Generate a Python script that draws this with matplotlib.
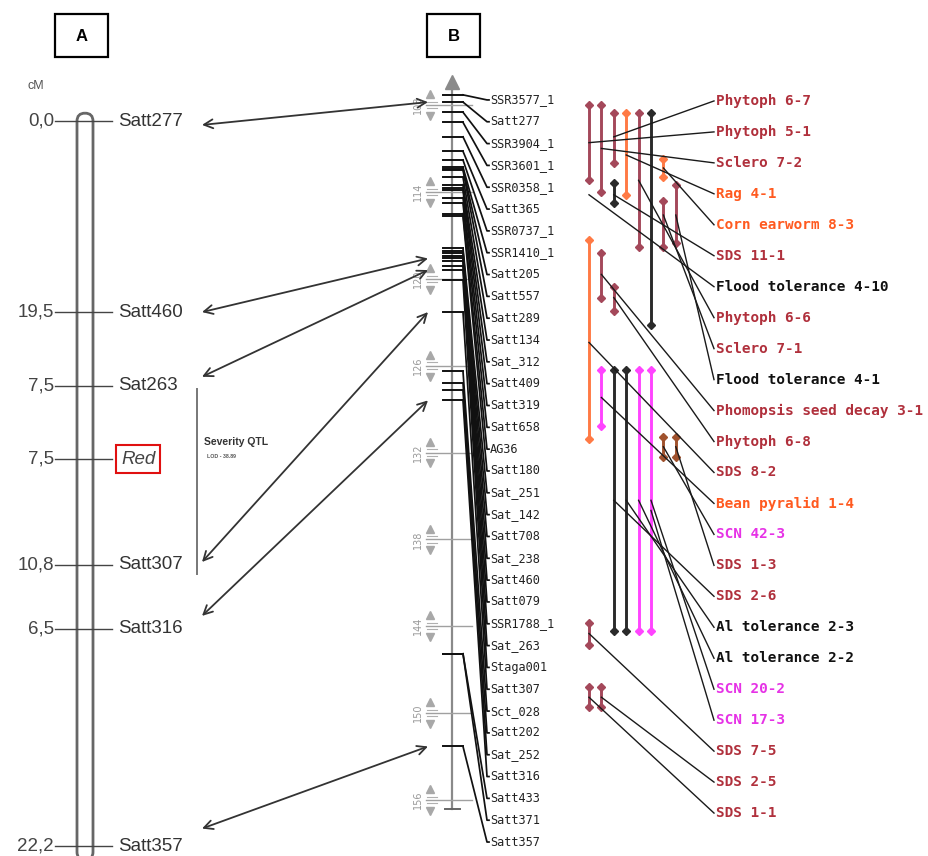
import numpy as np
import matplotlib

matplotlib.use("Agg")
import matplotlib.pyplot as plt
from matplotlib.patches import FancyBboxPatch, ConnectionPatch, Rectangle

# --- panel A: linkage group, marker intervals in cM -------------------------
A_MARKERS = ["Satt277", "Satt460", "Sat263", "Red", "Satt307", "Satt316", "Satt357"]
A_INTERVALS = [0.0, 19.5, 7.5, 7.5, 10.8, 6.5, 22.2]
QTL_SPAN = ("Sat263", "Satt307")
QTL_TITLE = "Severity QTL"
QTL_LOD = "LOD - 38.89"

# --- panel B: consensus map (cM) --------------------------------------------
B_MARKERS = [
    "SSR3577_1", "Satt277", "SSR3904_1", "SSR3601_1", "SSR0358_1", "Satt365",
    "SSR0737_1", "SSR1410_1", "Satt205", "Satt557", "Satt289", "Satt134",
    "Sat_312", "Satt409", "Satt319", "Satt658", "AG36", "Satt180", "Sat_251",
    "Sat_142", "Satt708", "Sat_238", "Satt460", "Satt079", "SSR1788_1",
    "Sat_263", "Staga001", "Satt307", "Sct_028", "Satt202", "Sat_252",
    "Satt316", "Satt433", "Satt371", "Satt357",
]
B_CM = [
    107.3, 107.8, 108.5, 109.2, 110.2, 111.2, 111.8, 112.3, 112.4, 112.5,
    113.0, 113.5, 113.7, 113.9, 114.4, 114.8, 115.5, 115.7, 117.9, 118.1,
    118.2, 118.4, 118.6, 118.8, 119.1, 119.4, 120.1, 122.3, 126.4, 127.2,
    127.7, 128.4, 145.9, 145.9, 152.3,
]
B_SCALE = [108, 114, 120, 126, 132, 138, 144, 150, 156]

# markers shared by both maps (panel A name, panel B name)
SHARED = [
    ("Satt277", "Satt277"), ("Satt460", "Satt460"), ("Sat263", "Sat_263"),
    ("Satt307", "Satt307"), ("Satt316", "Satt316"), ("Satt357", "Satt357"),
]

# --- QTL bars on the consensus map: lane, start cM, end cM, trait colour -----
QTL_LANE = [0, 1, 2, 3, 4, 5, 2, 6, 7, 6, 0, 1, 2, 1, 2, 3, 4, 5, 6, 7, 0, 0, 1]
QTL_START = [108.0, 108.0, 108.55, 108.55, 108.55, 108.55, 113.4, 111.7, 113.5,
             114.6, 117.3, 118.2, 120.6, 126.3, 126.3, 126.3, 126.3, 126.3,
             130.9, 130.9, 143.8, 148.2, 148.2]
QTL_END = [113.2, 114.0, 112.0, 114.2, 117.8, 123.2, 114.8, 113.0, 117.5,
           117.8, 131.1, 121.3, 122.2, 130.2, 144.3, 144.3, 144.3, 144.3,
           132.3, 132.3, 145.3, 149.6, 149.6]
QTL_KIND = ["m", "m", "m", "o", "m", "k", "k", "o", "m", "m", "o", "m", "m",
            "p", "k", "k", "p", "p", "b", "b", "m", "m", "m"]

# trait labels, with the lane / cM their leader line leaves from
TRAIT_NAMES = [
    "Phytoph 6-7", "Phytoph 5-1", "Sclero 7-2", "Rag 4-1", "Corn earworm 8-3",
    "SDS 11-1", "Flood tolerance 4-10", "Phytoph 6-6", "Sclero 7-1",
    "Flood tolerance 4-1", "Phomopsis seed decay 3-1", "Phytoph 6-8", "SDS 8-2",
    "Bean pyralid 1-4", "SCN 42-3", "SDS 1-3", "SDS 2-6", "Al tolerance 2-3",
    "Al tolerance 2-2", "SCN 20-2", "SCN 17-3", "SDS 7-5", "SDS 2-5", "SDS 1-1",
]
TRAIT_KIND = ["r", "r", "r", "o", "o", "r", "k", "r", "r", "k", "r", "r", "r",
              "o", "p", "r", "r", "k", "k", "p", "p", "r", "r", "r"]
TRAIT_LANE = [2, 0, 1, 3, 6, 2, 0, 4, 6, 7, 1, 2, 0, 1, 6, 7, 2, 3, 4, 5, 5, 0, 1, 0]
TRAIT_CM = [110.2, 110.6, 111.0, 111.45, 112.35, 114.2, 114.2, 113.2, 115.6,
            115.6, 119.7, 121.3, 124.4, 128.2, 131.6, 131.6, 135.3, 135.3,
            135.3, 135.3, 136.0, 144.5, 148.9, 148.9]

BAR_COLORS = {"m": "#a4485a", "o": "#ff7a45", "k": "#2a2a2a", "p": "#ff44ff",
              "b": "#a0522d"}
TEXT_COLORS = {"r": "#b0303c", "o": "#ff5a20", "k": "#111111", "p": "#e632e6"}

W, H = 929, 856
fig = plt.figure(figsize=(W / 100, H / 100), dpi=100)

# layout axes in pixel units (boxes, captions)
ax_l = fig.add_axes([0, 0, 1, 1])
ax_l.set_xlim(0, W)
ax_l.set_ylim(H, 0)
ax_l.axis("off")

# panel A: x in layout pixels, y in cM
PX_PER_CM_A = 9.8
TOP_A = 121
ax_a = fig.add_axes([0, 0, 1, 1])
ax_a.set_xlim(0, W)
ax_a.set_ylim((H - TOP_A) / PX_PER_CM_A, -TOP_A / PX_PER_CM_A)
ax_a.axis("off")
ax_a.patch.set_alpha(0)

# panel B: x in layout pixels, y in consensus cM
PX_PER_CM_B = 14.48
ax_b = fig.add_axes([0, 0, 1, 1])
ax_b.set_xlim(0, W)
ax_b.set_ylim(108 + (H - 105) / PX_PER_CM_B, 108 - 105 / PX_PER_CM_B)
ax_b.axis("off")
ax_b.patch.set_alpha(0)

# --- panel labels -----------------------------------------------------------
for x0, letter in [(55, "A"), (427, "B")]:
    ax_l.add_patch(Rectangle((x0, 14), 53, 43, fill=False, ec="black", lw=1.6))
    ax_l.text(x0 + 26.5, 36, letter, ha="center", va="center",
              fontsize=12, fontweight="bold", family="Liberation Sans")
ax_l.text(28, 86, "cM", ha="left", va="center", fontsize=9, color="#555",
          family="Liberation Sans")

# --- panel A ----------------------------------------------------------------
a_pos = np.cumsum(A_INTERVALS)
a_lookup = dict(zip(A_MARKERS, a_pos))
chrom = FancyBboxPatch((77, -0.8), 16, 76.2,
                       boxstyle="round,pad=0,rounding_size=8",
                       mutation_aspect=1 / PX_PER_CM_A,
                       fc="none", ec="#666", lw=2)
ax_a.add_patch(chrom)
for name, step, y in zip(A_MARKERS, A_INTERVALS, a_pos):
    ax_a.plot([55, 112], [y, y], color="#444", lw=1)
    ax_a.text(54, y, f"{step:.1f}".replace(".", ","), ha="right", va="center",
              fontsize=13.5, color="#444", family="Liberation Sans")
    if name == "Red":
        ax_a.text(121, y, name, ha="left", va="center", fontsize=13.5,
                  style="italic", color="#444", family="Liberation Sans",
                  bbox=dict(boxstyle="square,pad=0.28", fc="white",
                            ec="#e01010", lw=1.5))
    else:
        ax_a.text(118, y, name, ha="left", va="center", fontsize=13.5,
                  color="#333", family="Liberation Sans")

q0, q1 = a_lookup[QTL_SPAN[0]], a_lookup[QTL_SPAN[1]]
ax_a.plot([197, 197], [q0 + 0.3, q1 + 0.9], color="#777", lw=1.4)
ax_a.text(204, q0 + 5.8, QTL_TITLE, ha="left", va="center", fontsize=7.5,
          fontweight="bold", color="#333", family="Liberation Sans")
ax_a.text(207, q0 + 7.2, QTL_LOD, ha="left", va="center", fontsize=3.8,
          fontweight="bold", color="#555", family="Liberation Sans")

# --- panel B: map axis with scale --------------------------------------------
AXIS_X = 452
ax_b.plot([AXIS_X, AXIS_X], [106.6, 156.6], color="#8a8a8a", lw=1.6, zorder=1)
ax_b.plot([AXIS_X], [106.4], marker="^", ms=10, color="#8a8a8a", zorder=1)
ax_b.plot([445, 460], [156.6, 156.6], color="#666", lw=1.4)
for s in B_SCALE:
    ax_b.plot([426, 472], [s, s], color="#a0a0a0", lw=1.0, zorder=1)
    ax_b.plot([430], [s - 0.75], marker="^", ms=5.5, color="#a8a8a8")
    ax_b.plot([430], [s + 0.75], marker="v", ms=5.5, color="#a8a8a8")
    ax_b.plot([427, 437], [s - 0.22, s - 0.22], color="#b0b0b0", lw=0.8)
    ax_b.plot([427, 437], [s + 0.22, s + 0.22], color="#b0b0b0", lw=0.8)
    ax_b.text(418, s, str(s), rotation=90, ha="center", va="center",
              fontsize=7, color="#999", family="DejaVu Sans")

# marker ticks, leader lines and names
label_cm = np.linspace(107.65, 158.9, len(B_MARKERS))
for name, cm, ly in zip(B_MARKERS, B_CM, label_cm):
    ax_b.plot([443, 463], [cm, cm], color="#111", lw=1.4, zorder=2)
    ax_b.plot([463, 487, 489], [cm, ly, ly], color="#111", lw=1.25, zorder=2)
    ax_b.text(490, ly, name, ha="left", va="center", fontsize=8.6,
              color="#222", family="DejaVu Sans Mono")

# --- panel B: QTL bars ---------------------------------------------------------
def lane_x(lane):
    return 589 + 12.4 * lane


for lane, y0, y1, kind in zip(QTL_LANE, QTL_START, QTL_END, QTL_KIND):
    c = BAR_COLORS[kind]
    x = lane_x(lane)
    ax_b.plot([x, x], [y0, y1], color=c, lw=2.1, solid_capstyle="butt", zorder=3)
    ax_b.plot([x, x], [y0, y1], ls="none", marker="D", ms=3.8, color=c, zorder=3)

trait_cm = np.linspace(107.72, 156.9, len(TRAIT_NAMES))
for name, kind, lane, cm, ly in zip(TRAIT_NAMES, TRAIT_KIND, TRAIT_LANE,
                                    TRAIT_CM, trait_cm):
    ax_b.plot([lane_x(lane), 714], [cm, ly], color="#1a1a1a", lw=1.0, zorder=4)
    ax_b.text(716, ly, name, ha="left", va="center", fontsize=10.4,
              fontweight="bold", color=TEXT_COLORS[kind],
              family="DejaVu Sans Mono")

# --- arrows linking shared markers between the maps ---------------------------
b_lookup = dict(zip(B_MARKERS, B_CM))
A_NUDGE = [0.4, 0.0, -0.9, -0.3, -1.3, -1.8]
for (a_name, b_name), nudge in zip(SHARED, A_NUDGE):
    con = ConnectionPatch(xyA=(202, a_lookup[a_name] + nudge), coordsA=ax_a.transData,
                          xyB=(428, b_lookup[b_name]), coordsB=ax_b.transData,
                          arrowstyle="<->", mutation_scale=16, color="#333",
                          lw=1.3, shrinkA=0, shrinkB=0)
    fig.add_artist(con)

fig.savefig("out.png", dpi=100, facecolor="white")
plt.close(fig)
